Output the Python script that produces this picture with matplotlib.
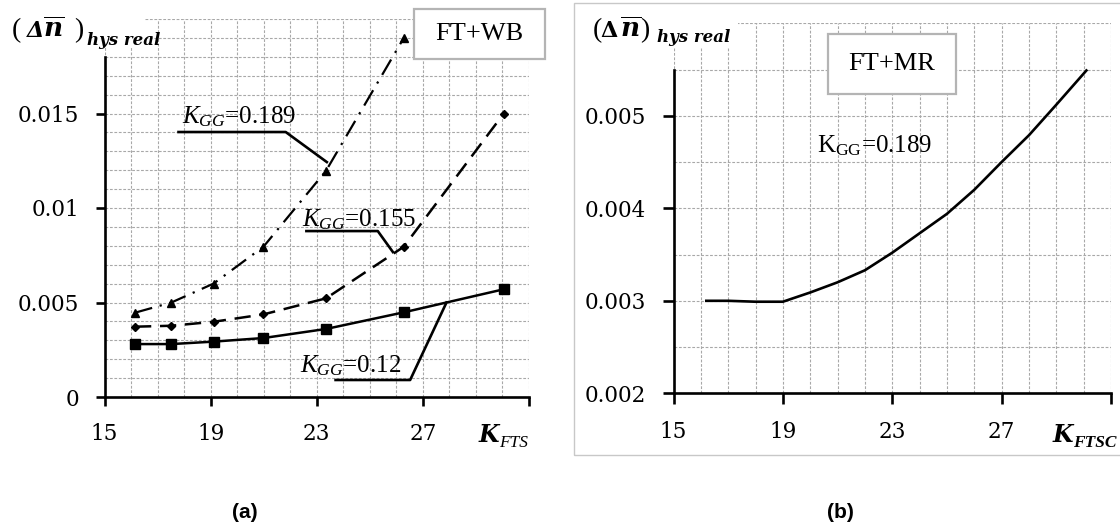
import matplotlib
matplotlib.use("Agg")
import matplotlib.pyplot as plt
from matplotlib.patches import Rectangle
from matplotlib.ticker import MultipleLocator

plt.rcParams['mathtext.fontset'] = 'custom'
plt.rcParams['mathtext.rm'] = 'Liberation Serif'
plt.rcParams['mathtext.it'] = 'Liberation Serif:italic'
plt.rcParams['mathtext.bf'] = 'DejaVu Serif:bold'
plt.rcParams['mathtext.bfit'] = 'DejaVu Serif:bold:italic'

# ---------------- data (a) ----------------
k_fts = [16.15, 17.52, 19.11, 20.99, 23.35, 26.28, 30.05]
dn_012 = [0.0028, 0.0028, 0.00293, 0.00312, 0.0036, 0.00448, 0.0057]
dn_0155 = [0.00372, 0.00377, 0.00398, 0.00437, 0.00522, 0.00795, 0.0150]
k_fts_189 = [16.15, 17.52, 19.11, 20.99, 23.35, 26.28]
dn_0189 = [0.00446, 0.0050, 0.0060, 0.00795, 0.01197, 0.0190]

# ---------------- data (b) ----------------
k_ftsc = [16.2, 17, 18, 19, 20, 21, 22, 23, 24, 25, 26, 27, 28, 29, 30.1]
dn_b = [0.0030, 0.0030, 0.00299, 0.00299, 0.00309, 0.0032, 0.00333, 0.00352,
        0.00373, 0.00394, 0.0042, 0.0045, 0.00479, 0.00512, 0.00549]

xticks = [15, 19, 23, 27, 31]
xticklabels = ['15', '19', '23', '27', '']
yticks_a = [0, 0.005, 0.01, 0.015]
yticklabels_a = ['0', '0.005', '0.01', '0.015']
yticks_b = [0.002, 0.003, 0.004, 0.005]
yticklabels_b = ['0.002', '0.003', '0.004', '0.005']

W, H = 1120, 524
fig = plt.figure(figsize=(W / 100, H / 100), dpi=100)

def px(x, y):
    return x / W, 1 - y / H

grid_kw = dict(color='#a8a8a8', lw=0.8, linestyle=(0, (2.5, 1.5)))
tick_font = dict(family='DejaVu Serif', size=15.5)
serif = 'Liberation Serif'
dserif = 'DejaVu Serif'


def style_axes(ax, xlim, ylim, ytop, yminor, yticks, ylabels):
    ax.set_xlim(*xlim)
    ax.set_ylim(*ylim)
    for s in ['top', 'right']:
        ax.spines[s].set_visible(False)
    for s in ['left', 'bottom']:
        ax.spines[s].set_linewidth(1.9)
    ax.spines['left'].set_bounds(ylim[0], ytop)
    ax.set_xticks(xticks)
    ax.set_xticklabels(xticklabels, **tick_font)
    ax.set_yticks(yticks)
    ax.set_yticklabels(ylabels, **tick_font)
    ax.xaxis.set_minor_locator(MultipleLocator(1))
    ax.yaxis.set_minor_locator(MultipleLocator(yminor))
    ax.tick_params(which='major', direction='out', length=6.5, width=1.9, pad=12)
    ax.tick_params(which='minor', length=0)
    ax.grid(True, which='both', **grid_kw)
    ax.set_axisbelow(True)


def white_box(x0, y0, x1, y1):
    a, b1 = px(x0, y1)
    c, d = px(x1, y0)
    fig.patches.append(Rectangle((a, b1), c - a, d - b1, transform=fig.transFigure,
                                 facecolor='white', edgecolor='none', zorder=2))


def ylabel_pieces(x_open, x_delta, x_n, x_close, x_sub, delta_style, sub_base):
    base = 37
    fig.text(*px(x_open, base), '(', family=serif, fontsize=20, va='baseline', zorder=6)
    fig.text(*px(x_delta, base), 'Δ', family=dserif, fontsize=16, weight='bold',
             style=delta_style, va='baseline', zorder=6)
    fig.text(*px(x_n, base), r'$\overline{\mathbfit{n}}$', fontsize=19,
             va='baseline', zorder=6)
    fig.text(*px(x_close, base), ')', family=serif, fontsize=20, va='baseline', zorder=6)
    fig.text(*px(x_sub, sub_base), 'hys real', family=dserif, fontsize=12, weight='bold',
             style='italic', va='baseline', zorder=6)


def k_label(x, sub, sub_weight):
    fig.text(*px(x, 442), 'K', family=dserif, fontsize=17, weight='bold', style='italic',
             va='baseline', zorder=6)
    fig.text(*px(x + 20, 447), sub, family=serif, fontsize=12.5, weight=sub_weight,
             style='italic', va='baseline', zorder=6)


# ================= panel (a) =================
l, b = px(104.5, 397)
r, t = px(529, 19)
axa = fig.add_axes([l, b, r - l, t - b])
style_axes(axa, (15, 31), (0, 0.02), 0.018, 0.001, yticks_a, yticklabels_a)

axa.plot(k_fts, dn_012, color='black', lw=1.8, marker='s', ms=6.5, zorder=3)
axa.plot(k_fts, dn_0155, color='black', lw=1.8, linestyle=(0, (6.5, 3.5)),
         marker='D', ms=4, zorder=3)
axa.plot(k_fts_189, dn_0189, color='black', lw=1.6, linestyle=(0, (8, 3.5, 1, 3.5)),
         marker='^', ms=6, zorder=3)

# leader lines
lead_kw = dict(color='black', lw=1.9, clip_on=False, zorder=4)
axa.plot([17.79, 21.83, 23.38], [0.01402, 0.01402, 0.01243], **lead_kw)
axa.plot([22.61, 25.30, 25.87], [0.00878, 0.00878, 0.00767], **lead_kw)
axa.plot([23.71, 26.52, 27.89], [0.0009, 0.0009, 0.0050], **lead_kw)

ann_kw = dict(fontsize=18, family=serif, va='baseline', ha='left', zorder=5)
axa.text(17.93, 0.01445, r'$K_{GG}$=0.189', **ann_kw)
axa.text(22.44, 0.00905, r'$K_{GG}$=0.155', **ann_kw)
axa.text(22.37, 0.00128, r'$K_{GG}$=0.12', **ann_kw)

# FT+WB box
bx0, by1 = px(414, 59)
bx1, by0 = px(545, 9)
fig.patches.append(Rectangle((bx0, by0), bx1 - bx0, by1 - by0, transform=fig.transFigure,
                             facecolor='white', edgecolor='#b4b4b4', lw=1.6, zorder=5))
fig.text((bx0 + bx1) / 2, (by0 + by1) / 2, 'FT+WB', family=serif,
         fontsize=19, ha='center', va='center', zorder=6)

# y label (a)
white_box(0, 0, 145, 48)
ylabel_pieces(12, 27, 43, 74, 87, 'italic', 45)
# x label (a)
k_label(479, 'FTS', 'normal')
fig.text(*px(245, 512), '(a)', family='Liberation Sans', weight='bold',
         fontsize=15, ha='center', va='center')

# ================= panel (b) =================
fx0, fy1 = px(574, 455)
fx1, fy0 = px(1130, 3)
fig.patches.append(Rectangle((fx0, fy1), fx1 - fx0, fy0 - fy1, transform=fig.transFigure,
                             facecolor='none', edgecolor='#c8c8c8', lw=1.0, zorder=1))

l, b = px(673.5, 393.3)
r, t = px(1111, 23.3)
axb = fig.add_axes([l, b, r - l, t - b])
style_axes(axb, (15, 31), (0.002, 0.006), 0.0055, 0.0005, yticks_b, yticklabels_b)
axb.tick_params(which='major', length=8)
axb.plot(k_ftsc, dn_b, color='black', lw=1.9, zorder=3)

axb.text(20.25, 0.00468, r'$\mathrm{K}_{\mathrm{GG}}$=0.189', fontsize=18, family=serif,
         ha='left', va='center', zorder=5)

bx0, by1 = px(828, 94)
bx1, by0 = px(956, 34)
fig.patches.append(Rectangle((bx0, by0), bx1 - bx0, by1 - by0, transform=fig.transFigure,
                             facecolor='white', edgecolor='#b4b4b4', lw=1.6, zorder=5))
fig.text((bx0 + bx1) / 2, (by0 + by1) / 2, 'FT+MR', family=serif,
         fontsize=19, ha='center', va='center', zorder=6)

white_box(578, 5, 738, 48)
ylabel_pieces(593, 600, 620, 640, 657, 'normal', 42)
k_label(1053, 'FTSC', 'bold')
fig.text(*px(840, 512), '(b)', family='Liberation Sans', weight='bold',
         fontsize=15, ha='center', va='center')

fig.savefig('out.png', dpi=100)
